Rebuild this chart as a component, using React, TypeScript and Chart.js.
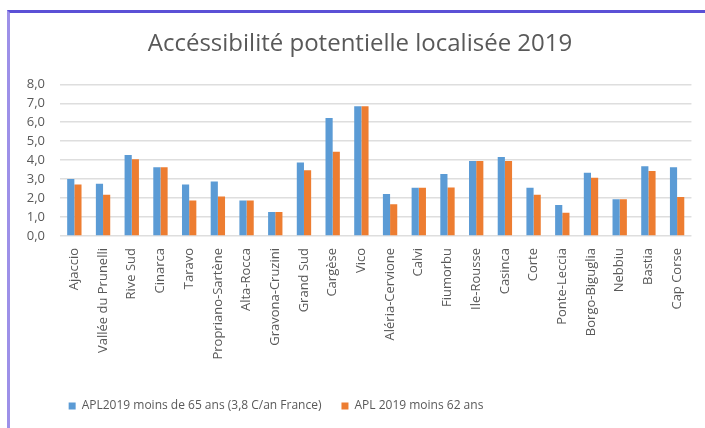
import React, { useEffect, useRef } from "react";
import { Chart, registerables } from "chart.js";

Chart.register(...registerables);

const categories = [
  "Ajaccio", "Vallée du Prunelli", "Rive Sud", "Cinarca", "Taravo", "Propriano-Sartène",
  "Alta-Rocca", "Gravona-Cruzini", "Grand Sud", "Cargèse", "Vico", "Aléria-Cervione",
  "Calvi", "Fiumorbu", "Ile-Rousse", "Casinca", "Corte", "Ponte-Leccia",
  "Borgo-Biguglia", "Nebbiu", "Bastia", "Cap Corse",
];
const apl65 = [3.0, 2.75, 4.27, 3.62, 2.72, 2.88, 1.87, 1.26, 3.87, 6.22, 6.84, 2.22, 2.54, 3.27, 3.95, 4.16, 2.54, 1.63, 3.34, 1.94, 3.68, 3.62];
const apl62 = [2.72, 2.17, 4.05, 3.62, 1.87, 2.08, 1.87, 1.26, 3.47, 4.44, 6.84, 1.67, 2.54, 2.56, 3.95, 3.95, 2.17, 1.23, 3.07, 1.94, 3.43, 2.06];
const seriesNames = ["APL2019 moins de 65 ans (3,8 C/an France)", "APL 2019 moins 62 ans"];
const titleText = "Accéssibilité potentielle localisée 2019";

const FONT = "'Open Sans', sans-serif";
const TXT = "#595959";

export default function App() {
  const ref = useRef<HTMLCanvasElement | null>(null);
  useEffect(() => {
    document.body.style.margin = "0";
    const canvas = ref.current!;
    const shiftBoxes = {
      id: "shiftBoxes",
      afterLayout(chart: any) {
        const lg = chart.legend;
        if (lg) { lg.left -= 75; lg.right -= 75; }
        const tb = chart.titleBlock;
        if (tb) { tb.left += 9; tb.right += 9; }
      },
    };
    const chart = new Chart(canvas, {
      type: "bar",
      data: {
        labels: categories,
        datasets: [
          { label: seriesNames[0], data: apl65, backgroundColor: "#5b9bd5", borderWidth: 0 },
          { label: seriesNames[1], data: apl62, backgroundColor: "#ed7d31", borderWidth: 0 },
        ],
      },
      options: {
        responsive: false,
        animation: false,
        devicePixelRatio: 1,
        layout: { padding: { left: 10, right: 13, top: 0, bottom: 6 } },
        datasets: { bar: { barPercentage: 1, categoryPercentage: 0.5 } },
        plugins: {
          title: {
            display: true,
            text: titleText,
            color: TXT,
            font: { family: FONT, size: 24, weight: "normal" },
            padding: { top: 30, bottom: 25.5 },
          },
          legend: {
            position: "bottom",
            labels: {
              color: TXT,
              font: { family: FONT, size: 12 },
              boxWidth: 7,
              boxHeight: 7,
              padding: 20,
            },
          },
          tooltip: { enabled: false },
        },
        scales: {
          x: {
            grid: { display: false, drawTicks: false },
            border: { display: false },
            ticks: {
              color: TXT,
              font: { family: FONT, size: 13 },
              minRotation: 90,
              maxRotation: 90,
              autoSkip: false,
              padding: 12,
            },
            afterFit(scale: any) { scale.height = 144; },
          },
          y: {
            min: 0,
            max: 8,
            grid: { color: "#dedede", lineWidth: 1.5, drawTicks: false },
            border: { display: false },
            ticks: {
              stepSize: 1,
              autoSkip: false,
              color: TXT,
              font: { family: FONT, size: 13 },
              padding: 15,
              callback: (v: any) => Number(v).toFixed(1).replace(".", ","),
            },
            afterFit(scale: any) { scale.width = 50; },
          },
        },
      },
      plugins: [shiftBoxes],
    } as any);
    return () => chart.destroy();
  }, []);
  return (
    <div style={{ position: "fixed", left: 0, top: 0, width: 705, height: 428, background: "#fff" }}>
      <div
        style={{
          position: "absolute", left: 7, top: 10, width: 698, height: 418,
          borderLeft: "3px solid #9d90e8", borderTop: "3px solid #5b50d6", boxSizing: "border-box",
        }}
      />
      <canvas ref={ref} width={705} height={428} style={{ position: "absolute", left: 0, top: 0 }} />
    </div>
  );
}
